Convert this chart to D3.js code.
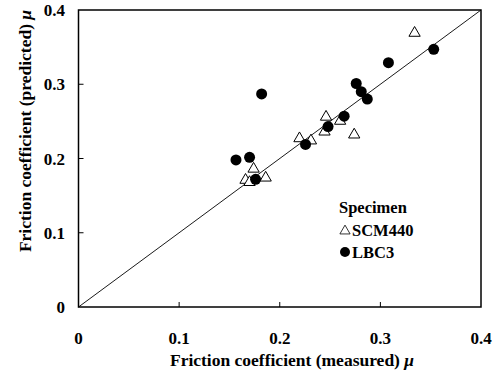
<!DOCTYPE html>
<html>
<head>
<meta charset="utf-8">
<script src="https://cdn.jsdelivr.net/npm/d3@7"></script>
<style>
  body { margin: 0; background: #fff; }
  svg text { font-family: "Liberation Serif", "DejaVu Serif", serif; font-weight: bold; fill: #000; }
</style>
</head>
<body>
<script>
// measured vs predicted friction coefficient
var scmMeasured  = [0.334, 0.246, 0.260, 0.2445, 0.274, 0.2196, 0.231, 0.174, 0.186, 0.166, 0.170];
var scmPredicted = [0.369, 0.256, 0.2505, 0.236, 0.232, 0.227, 0.224, 0.186, 0.174, 0.171, 0.168];
var lbcMeasured  = [0.353, 0.308, 0.276, 0.281, 0.287, 0.182, 0.264, 0.248, 0.2256, 0.1565, 0.170, 0.176];
var lbcPredicted = [0.347, 0.329, 0.301, 0.290, 0.280, 0.287, 0.257, 0.243, 0.219, 0.198, 0.2016, 0.172];
var tickValues = [0, 0.1, 0.2, 0.3, 0.4];

var width = 496, height = 378;
var margin = {left: 78.5, right: 15, top: 10, bottom: 71};

var svg = d3.select("body").append("svg")
  .attr("width", width)
  .attr("height", height);

var x = d3.scaleLinear().domain([0, 0.4]).range([margin.left, width - margin.right]);
var y = d3.scaleLinear().domain([0, 0.4]).range([height - margin.bottom, margin.top]);

var fmt = function(d) { return d === 0 ? "0" : d3.format(".1f")(d); };

// frame
svg.append("rect")
  .attr("x", x(0)).attr("y", y(0.4))
  .attr("width", x(0.4) - x(0)).attr("height", y(0) - y(0.4))
  .attr("fill", "none").attr("stroke", "#000").attr("stroke-width", 1.5);

// inward ticks
svg.selectAll(".xt").data(tickValues.slice(1, 4)).enter().append("line")
  .attr("x1", function(d) { return x(d); }).attr("x2", function(d) { return x(d); })
  .attr("y1", y(0)).attr("y2", y(0) - 5)
  .attr("stroke", "#000").attr("stroke-width", 1);
svg.selectAll(".yt").data(tickValues.slice(1, 4)).enter().append("line")
  .attr("x1", x(0)).attr("x2", x(0) + 5)
  .attr("y1", function(d) { return y(d); }).attr("y2", function(d) { return y(d); })
  .attr("stroke", "#000").attr("stroke-width", 1);

// tick labels
svg.selectAll(".xl").data(tickValues).enter().append("text")
  .attr("x", function(d) { return x(d); })
  .attr("y", 344)
  .attr("text-anchor", "middle")
  .style("font-size", "17px")
  .text(fmt);
svg.selectAll(".yl").data(tickValues).enter().append("text")
  .attr("x", 65)
  .attr("y", function(d) { return y(d) + 6; })
  .attr("text-anchor", "end")
  .style("font-size", "17px")
  .text(fmt);

// axis titles
var xt = svg.append("text")
  .attr("x", 292).attr("y", 366)
  .attr("text-anchor", "middle")
  .style("font-size", "17.5px");
xt.append("tspan").text("Friction coefficient (measured)  ");
xt.append("tspan").style("font-style", "italic").text("μ");

var yt = svg.append("text")
  .attr("transform", "translate(31,131) rotate(-90)")
  .attr("text-anchor", "middle")
  .style("font-size", "17.5px");
yt.append("tspan").text("Friction coefficient (predicted) ");
yt.append("tspan").style("font-style", "italic").text("μ");

// 1:1 line
svg.append("line")
  .attr("x1", x(0)).attr("y1", y(0))
  .attr("x2", x(0.4)).attr("y2", y(0.4))
  .attr("stroke", "#000").attr("stroke-width", 0.9);

var tri = d3.symbol().type(d3.symbolTriangle).size(55);

svg.selectAll(".scm").data(scmMeasured).enter().append("path")
  .attr("d", tri)
  .attr("transform", function(d, i) { return "translate(" + x(d) + "," + y(scmPredicted[i]) + ")"; })
  .attr("fill", "#fff").attr("stroke", "#000").attr("stroke-width", 1);

svg.selectAll(".lbc").data(lbcMeasured).enter().append("circle")
  .attr("cx", function(d) { return x(d); })
  .attr("cy", function(d, i) { return y(lbcPredicted[i]); })
  .attr("r", 5.5)
  .attr("fill", "#000");

// legend
svg.append("text").attr("x", 339).attr("y", 213).style("font-size", "16.5px").text("Specimen");
svg.append("path").attr("d", d3.symbol().type(d3.symbolTriangle).size(45))
  .attr("transform", "translate(345,231)")
  .attr("fill", "#fff").attr("stroke", "#000").attr("stroke-width", 0.8);
svg.append("text").attr("x", 352).attr("y", 236).style("font-size", "16.5px").text("SCM440");
svg.append("circle").attr("cx", 345).attr("cy", 252).attr("r", 5).attr("fill", "#000");
svg.append("text").attr("x", 352).attr("y", 258).style("font-size", "16.5px").text("LBC3");
</script>
</body>
</html>
